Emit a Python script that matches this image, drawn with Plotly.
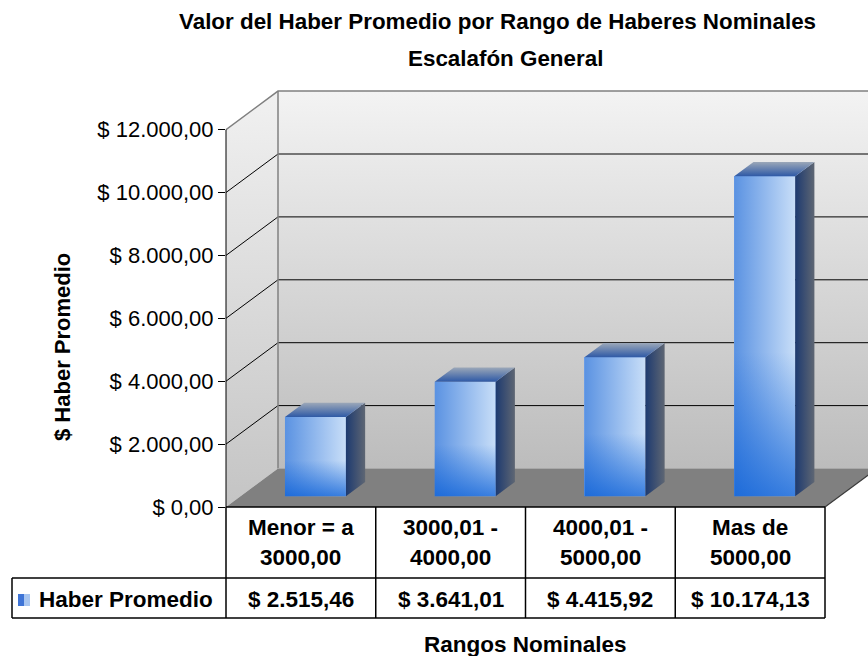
import plotly.graph_objects as go

# ---------------- data ----------------
categories = ["Menor = a<br>3000,00", "3000,01 -<br>4000,00", "4000,01 -<br>5000,00", "Mas de<br>5000,00"]
values = [2515.46, 3641.01, 4415.92, 10174.13]
series_name = "Haber Promedio"
y_ticks = [0, 2000, 4000, 6000, 8000, 10000, 12000]
title_lines = ["Valor del Haber Promedio por Rango de Haberes Nominales", "Escalafón General"]
x_title = "Rangos Nominales"
y_title = "$ Haber Promedio"


def money(v):
    s = f"{v:,.2f}"
    return "$ " + s.replace(",", "X").replace(".", ",").replace("X", ".")


# ---------------- geometry ----------------
W, H = 868, 656
ML, MR, MT, MB = 226, 0, 85, 149
PW, PH = W - ML - MR, H - MT - MB
CAT_PX = 149.75                 # pixels per category on the front plane
Y_PX = 377.4 / 12000.0          # pixels per value unit
XR = PW / CAT_PX
YR = PH / Y_PX
DX = 52.0 / CAT_PX              # depth offset (x units)
DY = 38.5 / Y_PX                # depth offset (y units)
F0, FD = 0.28, 0.37             # bar front depth / bar depth (fractions)
BW = 0.407                      # bar width (category units)
YTOP = y_ticks[-1]
FONT = "Liberation Sans, Arial, sans-serif"


def pxx(p):
    return (p - ML) / PW


def pxy(p):
    return (H - MB - p) / PH


def poly(xs, ys, xaxis="x", yaxis="y", **kw):
    return go.Scatter(x=list(xs) + [xs[0]], y=list(ys) + [ys[0]], mode="lines", fill="toself",
                      line=dict(width=0, color="rgba(0,0,0,0)"), hoverinfo="skip", showlegend=False,
                      xaxis=xaxis, yaxis=yaxis, **kw)


def lines(xs, ys, color, width, xaxis="x", yaxis="y"):
    return go.Scatter(x=xs, y=ys, mode="lines", line=dict(color=color, width=width),
                      hoverinfo="skip", showlegend=False, xaxis=xaxis, yaxis=yaxis)


traces = []
XFAR = XR + 1.0
# left wall
traces.append(poly([0, DX, DX, 0], [0, DY, YTOP + DY, YTOP],
                   fillgradient=dict(type="vertical", colorscale=[[0, "#c4c4c4"], [1, "#f1f1f1"]])))
# back wall
traces.append(poly([DX, XFAR, XFAR, DX], [DY, DY, YTOP + DY, YTOP + DY],
                   fillgradient=dict(type="vertical", colorscale=[[0, "#bcbcbc"], [1, "#f3f3f3"]])))
# floor
n = len(categories)
traces.append(poly([0, n, n + DX, DX], [0, 0, DY, DY], fillcolor="#808080"))

# gridlines on back wall and left wall
gx, gy = [], []
for v in y_ticks[1:-1]:
    gx += [DX, XFAR, None, 0, DX, None]
    gy += [v + DY, v + DY, None, v, v + DY, None]
traces.append(lines(gx, gy, "#000000", 1))
# wall edges
traces.append(lines([0, DX, XFAR, None, DX, DX], [YTOP, YTOP + DY, YTOP + DY, None, DY, YTOP + DY], "#808080", 1.5))
traces.append(lines([DX, n + DX], [DY, DY], "#a8a8a8", 1))
traces.append(lines([n, n + DX], [0, DY], "#3a3a3a", 1.2))

# ---------------- bars (overlay axes so they sit above walls) ----------------
centers = [i + 0.5 + F0 * DX for i in range(n)]
base = F0 * DY
traces.append(go.Bar(x=centers, y=values, base=base, width=BW, marker=dict(color="#7ea9ea", line=dict(width=0)),
                     name=series_name, showlegend=False, xaxis="x2", yaxis="y2", hoverinfo="y"))
for c, v in zip(centers, values):
    xl, xr = c - BW / 2, c + BW / 2
    top = base + v
    ddx, ddy = FD * DX, FD * DY
    # front face gradients
    traces.append(poly([xl, xr, xr, xl], [base, base, top, top], xaxis="x2", yaxis="y2",
                       fillgradient=dict(type="horizontal", colorscale=[[0, "#5a92e2"], [1, "#c8def8"]])))
    traces.append(poly([xl, xr, xr, xl], [base, base, top, top], xaxis="x2", yaxis="y2",
                       fillgradient=dict(type="vertical", colorscale=[[0, "rgba(10,95,215,0.75)"],
                                                                      [0.45, "rgba(10,95,215,0.0)"],
                                                                      [1, "rgba(255,255,255,0.0)"]])))
    # side face
    traces.append(poly([xr, xr + ddx, xr + ddx, xr], [base, base + ddy, top + ddy, top], xaxis="x2", yaxis="y2",
                       fillgradient=dict(type="horizontal", colorscale=[[0, "#1d3a70"], [1, "#5e6673"]])))
    # top face
    traces.append(poly([xl, xr, xr + ddx, xl + ddx], [top, top, top + ddy, top + ddy], xaxis="x2", yaxis="y2",
                       fillgradient=dict(type="vertical", colorscale=[[0, "#2e59a6"], [1, "#9ba7b8"]])))

fig = go.Figure(data=traces)

# ---------------- shapes (axis line + data table) ----------------
BLK = dict(color="#000000", width=1.5)
shapes = []
shapes.append(dict(type="line", xref="paper", yref="paper", x0=0, x1=0, y0=0, y1=YTOP / YR,
                   line=dict(color="#000000", width=1)))
shapes.append(dict(type="line", xref="paper", yref="paper", x0=0, x1=n / XR, y0=0, y1=0, line=BLK))
for i in range(n + 1):
    shapes.append(dict(type="line", xref="paper", yref="paper", x0=i / XR, x1=i / XR, y0=0, y1=pxy(618), line=BLK))
for yy in (578, 618):
    shapes.append(dict(type="line", xref="paper", yref="paper", x0=pxx(12), x1=n / XR, y0=pxy(yy), y1=pxy(yy), line=BLK))
shapes.append(dict(type="line", xref="paper", yref="paper", x0=pxx(12), x1=pxx(12), y0=pxy(578), y1=pxy(618), line=BLK))
# legend key
shapes.append(dict(type="rect", xref="paper", yref="paper", x0=pxx(18), x1=pxx(24), y0=pxy(606), y1=pxy(594),
                   fillcolor="#3f74d6", line=dict(width=0)))
shapes.append(dict(type="rect", xref="paper", yref="paper", x0=pxx(24), x1=pxx(30), y0=pxy(606), y1=pxy(594),
                   fillcolor="#a9c6f0", line=dict(width=0)))

# ---------------- annotations ----------------
ann = []
bold = dict(family=FONT, size=22.5, color="#000000", weight="bold")
for i, cat in enumerate(categories):
    parts = cat.split("<br>")
    for k, part in enumerate(parts):
        ann.append(dict(x=(i + 0.5) / XR, y=pxy(527 + 30 * k), xref="paper", yref="paper", text=part,
                        showarrow=False, font=bold, xanchor="center", yanchor="middle"))
    ann.append(dict(x=(i + 0.5) / XR, y=pxy(599), xref="paper", yref="paper", text=money(values[i]),
                    showarrow=False, font=bold, xanchor="center", yanchor="middle"))
ann.append(dict(x=pxx(37), y=pxy(599), xref="paper", yref="paper", text=series_name, showarrow=False,
                font=bold, xanchor="left", yanchor="middle"))
ann.append(dict(x=2 / XR, y=pxy(644), xref="paper", yref="paper", text=x_title, showarrow=False,
                font=bold, xanchor="center", yanchor="middle"))
ann.append(dict(x=pxx(62), y=pxy(347), xref="paper", yref="paper", text=y_title, showarrow=False,
                font=dict(family=FONT, size=22, color="#000000", weight="bold"), textangle=-90,
                xanchor="center", yanchor="middle"))
ann.append(dict(x=pxx(497), y=pxy(21), xref="paper", yref="paper", text=title_lines[0], showarrow=False,
                font=dict(family=FONT, size=22.4, color="#000000", weight="bold"), xanchor="center", yanchor="middle"))
ann.append(dict(x=pxx(505), y=pxy(58), xref="paper", yref="paper", text=title_lines[1], showarrow=False,
                font=dict(family=FONT, size=22.4, color="#000000", weight="bold"), xanchor="center", yanchor="middle"))

fig.update_layout(
    width=W, height=H,
    margin=dict(l=ML, r=MR, t=MT, b=MB, pad=0),
    paper_bgcolor="#ffffff", plot_bgcolor="#ffffff",
    showlegend=False,
    font=dict(family=FONT, color="#000000"),
    xaxis=dict(range=[0, XR], visible=False, fixedrange=True),
    yaxis=dict(range=[0, YR], tickvals=y_ticks, ticktext=[money(v) for v in y_ticks],
               ticks="outside", ticklen=7, tickwidth=1, tickcolor="#000000",
               showgrid=False, zeroline=False, showline=False, fixedrange=True,
               tickfont=dict(family=FONT, size=22, color="#000000")),
    xaxis2=dict(range=[0, XR], overlaying="x", anchor="y2", visible=False, fixedrange=True),
    yaxis2=dict(range=[0, YR], overlaying="y", anchor="x2", visible=False, fixedrange=True),
    shapes=shapes,
    annotations=ann,
    bargap=0,
)

fig.write_html("out.html", config={"displayModeBar": False},
               post_script="document.body.style.margin='0';document.body.style.padding='0';")
